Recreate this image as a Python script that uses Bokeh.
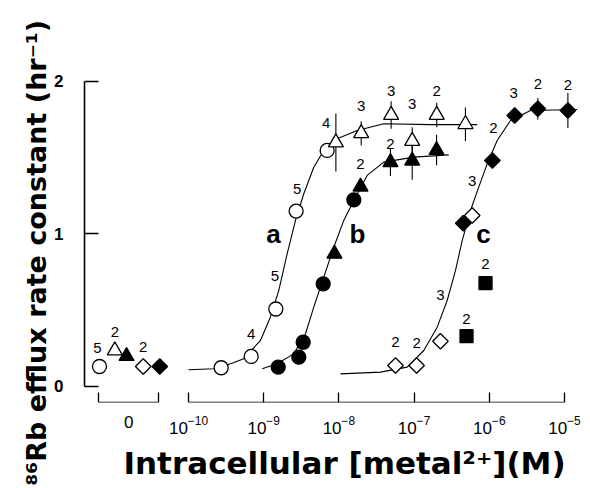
import numpy as np
from bokeh.plotting import figure
from bokeh.models import (Range1d, LogAxis, FixedTicker, ColumnDataSource, Title,
                          CustomJSTickFormatter)
from bokeh.core.properties import value
from bokeh.embed import file_html
from bokeh.resources import INLINE

# ---------------- data ----------------
# x: intracellular [metal2+] (M), y: 86Rb efflux rate constant (hr^-1), n: replicates
a_open_circle_x = [2.72e-10, 6.82e-10, 1.45e-9, 2.70e-9, 6.98e-9]
a_open_circle_y = [0.123, 0.197, 0.508, 1.15, 1.548]
a_open_circle_n = [None, 4, 5, 5, 4]

a_open_tri_x = [9.12e-9, 1.98e-8, 4.95e-8, 9.44e-8, 2.0e-7, 4.82e-7]
a_open_tri_y = [1.60, 1.66, 1.78, 1.61, 1.78, 1.72]
a_open_tri_err = [0.19, 0.08, 0.09, 0.09, 0.08, 0.11]
a_open_tri_n = [None, 3, 3, 3, 2, None]

b_circle_x = [1.56e-9, 2.93e-9, 3.35e-9, 6.18e-9, 1.58e-8]
b_circle_y = [0.127, 0.192, 0.29, 0.673, 1.224]

b_tri_x = [8.73e-9, 1.94e-8, 4.85e-8, 9.44e-8, 1.99e-7]
b_tri_y = [0.87, 1.31, 1.47, 1.48, 1.55]
b_tri_err = [0.0, 0.0, 0.09, 0.125, 0.10]
b_tri_n = [None, 2, 2, None, None]

c_open_dia_x = [5.66e-8, 1.08e-7, 2.24e-7, 5.93e-7]
c_open_dia_y = [0.138, 0.138, 0.297, 1.121]
c_open_dia_n = [2, 2, 3, 3]

c_dia_x = [4.50e-7, 1.10e-6, 2.18e-6, 4.42e-6, 1.11e-5]
c_dia_y = [1.071, 1.482, 1.777, 1.821, 1.810]
c_dia_err = [0.0, 0.0, 0.0, 0.07, 0.115]
c_dia_n = [None, 2, 3, 2, 2]

square_x = [4.98e-7, 8.91e-7]
square_y = [0.33, 0.678]
square_n = [2, 2]

# values at zero intracellular metal (open circle, open tri, filled tri, open diamond, filled diamond)
zero_y = [0.131, 0.236, 0.199, 0.131, 0.131]
zero_n = [5, 2, None, 2, None]

# fitted curves (log10 M, rate constant)
curve_a_log10 = [-10.0, -9.664, -9.441, -9.265, -9.043, -8.910, -8.799, -8.688, -8.577,
                 -8.467, -8.334, -8.201, -8.023, -7.757, -7.403, -6.782, -6.161]
curve_a_y = [0.110, 0.116, 0.149, 0.182, 0.302, 0.456, 0.630, 0.870, 1.089,
             1.264, 1.438, 1.548, 1.625, 1.679, 1.723, 1.717, 1.717]
curve_b_log10 = [-9.02, -8.820, -8.600, -8.444, -8.334, -8.201, -8.068, -7.935, -7.802,
                 -7.624, -7.403, -7.004, -6.539]
curve_b_y = [0.116, 0.149, 0.214, 0.346, 0.520, 0.717, 0.913, 1.089, 1.220,
             1.384, 1.471, 1.504, 1.519]
curve_c_log10 = [-7.979, -7.447, -7.092, -6.871, -6.693, -6.560, -6.449, -6.360, -6.250,
                 -6.140, -6.028, -5.895, -5.718, -5.452, -4.831]
curve_c_y = [0.083, 0.094, 0.127, 0.236, 0.389, 0.564, 0.761, 0.957, 1.154,
             1.307, 1.460, 1.613, 1.744, 1.810, 1.816]

x_ticks = [1e-10, 1e-9, 1e-8, 1e-7, 1e-6, 1e-5]
y_ticks = [0, 1, 2]
x_title = "Intracellular [metal²⁺](M)"
y_title = "⁸⁶Rb efflux rate constant (hr⁻¹)"

# ---------------- layout / style ----------------
XLO, XHI = 10 ** -11.383, 10 ** -4.654
YLO, YHI = -0.105, 2.059
ZERO_LEFT, ZERO_CENTER, ZERO_RIGHT = 6.3e-12, 1.6e-11, 4.0e-11
zero_slots = 10 ** np.array([-11.184, -10.98, -10.824, -10.602, -10.382])

p = figure(width=590, height=488, x_axis_type="log",
           x_range=Range1d(XLO, XHI), y_range=Range1d(YLO, YHI),
           min_border_left=84, min_border_right=0, min_border_top=72, min_border_bottom=86,
           output_backend="svg", toolbar_location=None)
p.grid.visible = False
p.outline_line_color = None

BLANK = CustomJSTickFormatter(code="return '';")

# labels-only x axis (the "0" of the zero section and the decade labels)
xa = p.xaxis[0]
xa.ticker = FixedTicker(ticks=[ZERO_CENTER] + x_ticks, minor_ticks=[])
xa.bounds = (ZERO_LEFT, x_ticks[-1])
xa.axis_line_color = None
xa.major_tick_in = 0
xa.major_tick_out = 0
xa.minor_tick_in = 0
xa.minor_tick_out = 0
xa.major_label_overrides = {ZERO_CENTER: "0"}
xa.major_label_text_font = "Liberation Sans"
xa.major_label_text_font_size = "17px"
xa.major_label_text_color = "black"
xa.major_label_standoff = 13

# zero-section bracket (line + end ticks)
za = LogAxis(ticker=FixedTicker(ticks=[ZERO_LEFT, ZERO_RIGHT], minor_ticks=[]),
             formatter=BLANK, bounds=(ZERO_LEFT, ZERO_RIGHT), fixed_location=YLO,
             major_tick_in=10, major_tick_out=0, minor_tick_in=0, minor_tick_out=0,
             major_tick_line_width=1.3, axis_line_width=1.6)
p.add_layout(za, "below")

# log-section axis line + decade ticks
la = LogAxis(ticker=FixedTicker(ticks=x_ticks, minor_ticks=[]),
             formatter=BLANK, bounds=(x_ticks[0], x_ticks[-1]), fixed_location=YLO,
             major_tick_in=10, major_tick_out=0, minor_tick_in=0, minor_tick_out=0,
             major_tick_line_width=1.3, axis_line_width=1.6)
p.add_layout(la, "below")

ya = p.yaxis[0]
ya.ticker = FixedTicker(ticks=y_ticks, minor_ticks=[])
ya.bounds = (0, 2)
ya.major_tick_in = 14
ya.major_tick_out = 0
ya.minor_tick_in = 0
ya.minor_tick_out = 0
ya.axis_line_width = 1.6
ya.major_tick_line_width = 1.3
ya.major_label_text_font = "Liberation Sans"
ya.major_label_text_font_style = "bold"
ya.major_label_text_font_size = "17px"
ya.major_label_text_color = "black"
ya.major_label_standoff = 21

# curves
for lx, ly in [(curve_a_log10, curve_a_y), (curve_b_log10, curve_b_y), (curve_c_log10, curve_c_y)]:
    p.line(10 ** np.array(lx), ly, line_color="black", line_width=1.1)

# error bars
for ex, ey, ee in [(a_open_tri_x, a_open_tri_y, a_open_tri_err),
                   (b_tri_x, b_tri_y, b_tri_err),
                   (c_dia_x, c_dia_y, c_dia_err)]:
    ex, ey, ee = np.array(ex), np.array(ey), np.array(ee)
    m = ee > 0
    p.segment(ex[m], ey[m] - ee[m], ex[m], ey[m] + ee[m], line_color="black", line_width=1.1)

# markers
def pts(x, y, marker, fill, size, angle=0.0):
    p.scatter(x, y, marker=marker, size=size, angle=angle, fill_color=fill,
              line_color="black", line_width=1.3)

pts(a_open_circle_x, a_open_circle_y, "circle", "white", 14)
pts(a_open_tri_x, a_open_tri_y, "triangle", "white", 15)
pts(b_circle_x, b_circle_y, "circle", "black", 14)
pts(b_tri_x, b_tri_y, "triangle", "black", 15)
pts(c_open_dia_x, c_open_dia_y, "square", "white", 11, np.pi / 4)
pts(c_dia_x, c_dia_y, "square", "black", 11, np.pi / 4)
pts(square_x, square_y, "square", "black", 13)

zero_styles = [("circle", "white", 14, 0.0), ("triangle", "white", 15, 0.0),
               ("triangle", "black", 15, 0.0), ("square", "white", 11, np.pi / 4),
               ("square", "black", 11, np.pi / 4)]
for i, (mk, fc, sz, ang) in enumerate(zero_styles):
    pts([zero_slots[i]], [zero_y[i]], mk, fc, sz, ang)

# replicate-number labels (pixel offsets from their point)
label_sets = [
    (a_open_circle_x, a_open_circle_y, a_open_circle_n, [(0, 0), (0, -22), (-1, -33), (1, -22), (-1, -27)]),
    (a_open_tri_x, a_open_tri_y, a_open_tri_n, [(0, 0), (0, -27), (0, -24), (0, -37), (0, -24), (0, 0)]),
    (b_tri_x, b_tri_y, b_tri_n, [(0, 0), (0, -23), (0, -18), (0, 0), (0, 0)]),
    (c_open_dia_x, c_open_dia_y, c_open_dia_n, [(0, -23), (0, -22), (0, -46), (0, -35)]),
    (c_dia_x, c_dia_y, c_dia_n, [(0, 0), (1, -32), (-1, -23), (0, -25), (0, -25)]),
    (square_x, square_y, square_n, [(0, -17), (0, -19)]),
    (list(zero_slots), zero_y, zero_n, [(-2, -19), (0, -18), (0, 0), (0, -20), (0, 0)]),
]
lx, ly, lt, ldx, ldy = [], [], [], [], []
for xs, ys, ns, offs in label_sets:
    for xv, yv, nv, (dx, dy) in zip(xs, ys, ns, offs):
        if nv is not None:
            lx.append(xv); ly.append(yv); lt.append(str(nv)); ldx.append(dx); ldy.append(dy)
src = ColumnDataSource(dict(x=lx, y=ly, t=lt, dx=ldx, dy=ldy))
p.text("x", "y", text="t", x_offset="dx", y_offset="dy", source=src,
       text_font=value("Liberation Sans"), text_font_size=value("15px"),
       text_align="center", text_baseline="middle", text_color="black")

# curve letters
curve_names = ["a", "b", "c"]
curve_name_pos = [(10 ** -8.87, 1.003), (10 ** -7.753, 1.003), (10 ** -6.077, 1.003)]
p.text([q[0] for q in curve_name_pos], [q[1] for q in curve_name_pos], text=curve_names,
       text_font=value("Liberation Sans"), text_font_style="bold", text_font_size=value("26px"),
       text_align="center", text_baseline="middle", text_color="black")

# axis titles as side-panel titles
p.add_layout(Title(text=x_title, align="left", offset=39, standoff=12,
                   text_font="DejaVu Sans", text_font_style="bold", text_font_size="31px",
                   text_color="black"), "below")
p.add_layout(Title(text=y_title, align="left", offset=-83, standoff=0,
                   text_font="DejaVu Sans", text_font_style="bold", text_font_size="27px",
                   text_color="black"), "left")

open("out.html", "w").write(file_html(p, INLINE))
